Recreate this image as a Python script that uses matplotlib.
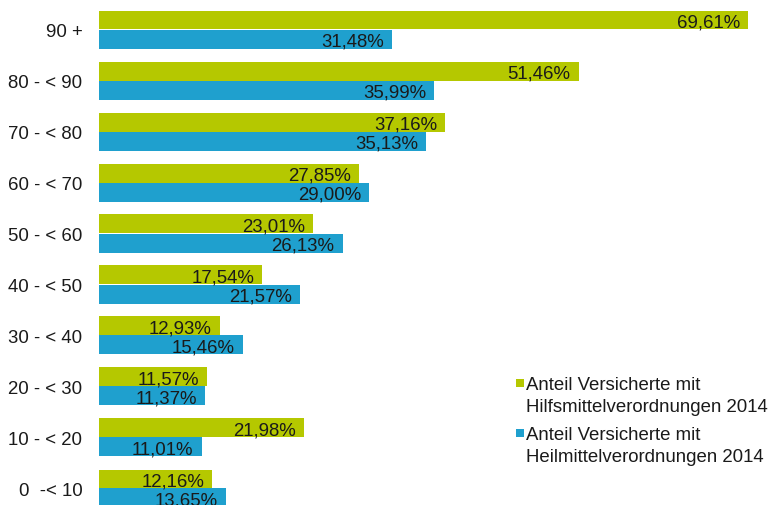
import matplotlib
matplotlib.use("Agg")
import matplotlib.pyplot as plt
from matplotlib.patches import Rectangle

plt.rcParams['font.family'] = ['Liberation Sans', 'DejaVu Sans']

categories = ["90 +", "80 - < 90", "70 - < 80", "60 - < 70", "50 - < 60",
              "40 - < 50", "30 - < 40", "20 - < 30", "10 - < 20", "0  -< 10"]
hilfsmittel = [69.61, 51.46, 37.16, 27.85, 23.01, 17.54, 12.93, 11.57, 21.98, 12.16]
heilmittel = [31.48, 35.99, 35.13, 29.00, 26.13, 21.57, 15.46, 11.37, 11.01, 13.65]
legend_labels = ["Anteil Versicherte mit\nHilfsmittelverordnungen 2014",
                 "Anteil Versicherte mit\nHeilmittelverordnungen 2014"]

green = "#B5C800"
blue = "#1FA0CE"
fs = 13.4

W, H = 772, 506
fig = plt.figure(figsize=(W / 100, H / 100), dpi=100)
left_px = 99
ax = fig.add_axes([left_px / W, 0, 1 - left_px / W, 1])

pitch = 51.0
boundary0 = 30.5
bar_h = 19.0 / pitch
ymin = -boundary0 / pitch
ymax = (H - boundary0) / pitch
px_per_pct = 9.32
ax.set_xlim(0, (W - left_px) / px_per_pct)
ax.set_ylim(ymax, ymin)

ys = list(range(len(categories)))
yg = [y - bar_h / 2 for y in ys]
yb = [y + bar_h / 2 for y in ys]
ax.barh(yg, hilfsmittel, height=bar_h, color=green, linewidth=0)
ax.barh(yb, heilmittel, height=bar_h, color=blue, linewidth=0)

def fmt(v):
    return f"{v:.2f}".replace(".", ",") + "%"

pad = 8 / px_per_pct
for y, v in zip(yg, hilfsmittel):
    ax.text(v - pad, y, fmt(v), ha="right", va="center_baseline", fontsize=fs, color="#1a1a1a")
for y, v in zip(yb, heilmittel):
    ax.text(v - pad, y, fmt(v), ha="right", va="center_baseline", fontsize=fs, color="#1a1a1a")

ax.set_yticks(ys)
ax.set_yticklabels(categories, fontsize=fs, color="#1a1a1a")
ax.tick_params(axis="y", length=0, pad=12)
ax.set_xticks([])
for s in ax.spines.values():
    s.set_visible(False)

# legend (manual)
leg_items = [(legend_labels[0], green, 380), (legend_labels[1], blue, 430)]
for lab, col, ytop in leg_items:
    fig.add_artist(Rectangle((516 / W, 1 - (ytop + 8) / H), 8 / W, 8 / H,
                             transform=fig.transFigure, color=col, linewidth=0))
    lines = lab.split("\n")
    for k, line in enumerate(lines):
        fig.text(526 / W, 1 - (ytop + 4 + 22 * k) / H, line, ha="left", va="center_baseline",
                 fontsize=fs, color="#1a1a1a")

fig.savefig("out.png", dpi=100)
